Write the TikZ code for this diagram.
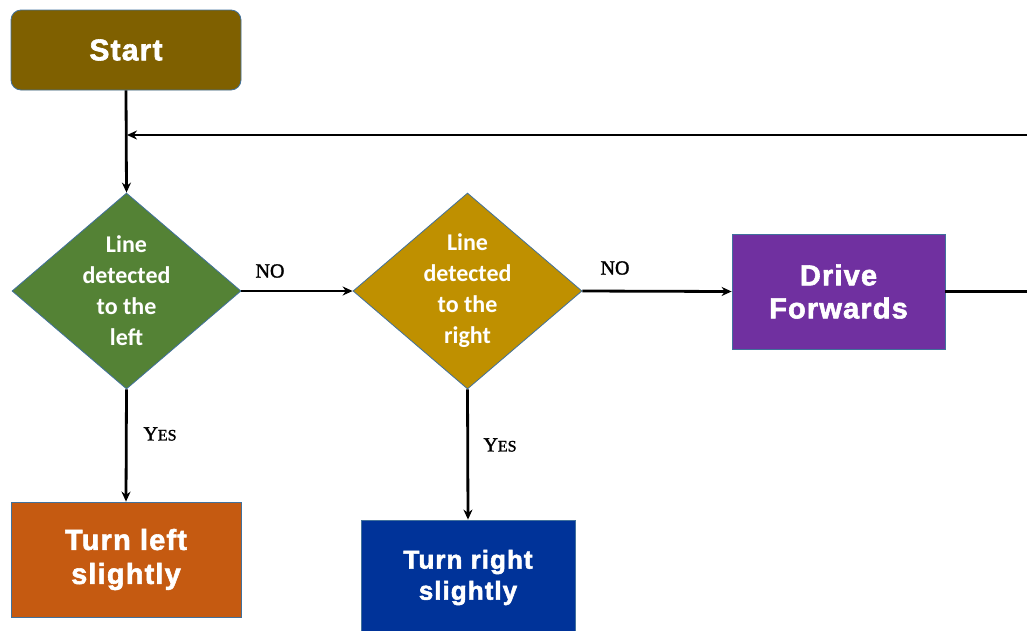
\documentclass[tikz,border=0pt]{standalone}
\usepackage{fontspec}
\setmainfont{Liberation Sans}
\newfontfamily\lblfont[FakeBold=1.5]{Liberation Serif}
\newfontfamily\boxfont[LetterSpace=4,FakeBold=2]{Liberation Sans}
\newfontfamily\diafont{Carlito}
\usetikzlibrary{shapes.geometric,arrows.meta}
\definecolor{cstart}{HTML}{7F6000}
\definecolor{cgreen}{HTML}{548235}
\definecolor{cgold}{HTML}{BF9000}
\definecolor{cpurple}{HTML}{7030A0}
\definecolor{corange}{HTML}{C55A11}
\definecolor{cblue}{HTML}{003399}
\definecolor{cborder}{HTML}{41719C}
\begin{document}
\begin{tikzpicture}[x=1pt,y=-1pt,
  boxstyle/.style={draw=cborder,line width=0.8pt,inner sep=0pt,text=white,align=center},
  dia/.style={diamond,draw=cborder,line width=0.8pt,inner sep=0pt,minimum width=229pt,minimum height=196pt},
  dtext/.style={text=white,font=\diafont\bfseries\fontsize{24}{31}\selectfont,align=center},
  conn/.style={line width=2.8pt,-{Stealth[length=10pt,width=9pt]}},
  plainconn/.style={line width=2.8pt},
  lbl/.style={font=\lblfont\fontsize{20}{20}\selectfont,inner sep=0pt}]
\useasboundingbox (0,0) rectangle (1027,630);
\fill[white] (0,0) rectangle (1027,630);

\node[boxstyle,fill=cstart,rounded corners=10pt,minimum width=230pt,minimum height=80pt,font=\boxfont\bfseries\fontsize{30}{30}\selectfont] (start) at (126,50) {Start};

\node[dia,fill=cgreen] (d1) at (126.5,291) {};
\node[dtext] at (d1) {Line\\detected\\to the\\left};

\node[dia,fill=cgold] (d2) at (467.5,291) {};
\node[dtext] at (d2) {Line\\detected\\to the\\right};

\node[boxstyle,fill=cpurple,minimum width=213pt,minimum height=115pt,font=\boxfont\bfseries\fontsize{29}{33}\selectfont] (drive) at (838.5,291.5) {Drive\\Forwards};

\node[boxstyle,fill=corange,minimum width=230pt,minimum height=115pt,font=\boxfont\bfseries\fontsize{29}{34}\selectfont] (tleft) at (126,559.5) {Turn left\\slightly};

\node[boxstyle,fill=cblue,minimum width=214pt,minimum height=115pt,font=\boxfont\bfseries\fontsize{26}{31}\selectfont] (tright) at (468,577.5) {Turn right\\slightly};

\coordinate (j1) at (126,135);
\coordinate (rt) at (1027,135);
\coordinate (rd) at (1027,291.5);

\draw[conn] (start.south) -- (d1.north);
\draw[conn] (rt) -- ([xshift=1pt]j1);
\draw[conn] (d1.east) -- (d2.west);
\draw[conn] (d2.east) -- (drive.west);
\draw[plainconn] (drive.east) -- (rd);
\draw[conn] (d1.south) -- (tleft.north);
\draw[conn] (d2.south) -- (tright.north);

\node[lbl] (no1) at (270,271) {NO};
\node[lbl] (no2) at (615,268) {NO};
\node[lbl] (yes1) at (160,434) {Y{\fontsize{16}{16}\selectfont ES}};
\node[lbl] (yes2) at (500,445) {Y{\fontsize{16}{16}\selectfont ES}};
\end{tikzpicture}
\end{document}
